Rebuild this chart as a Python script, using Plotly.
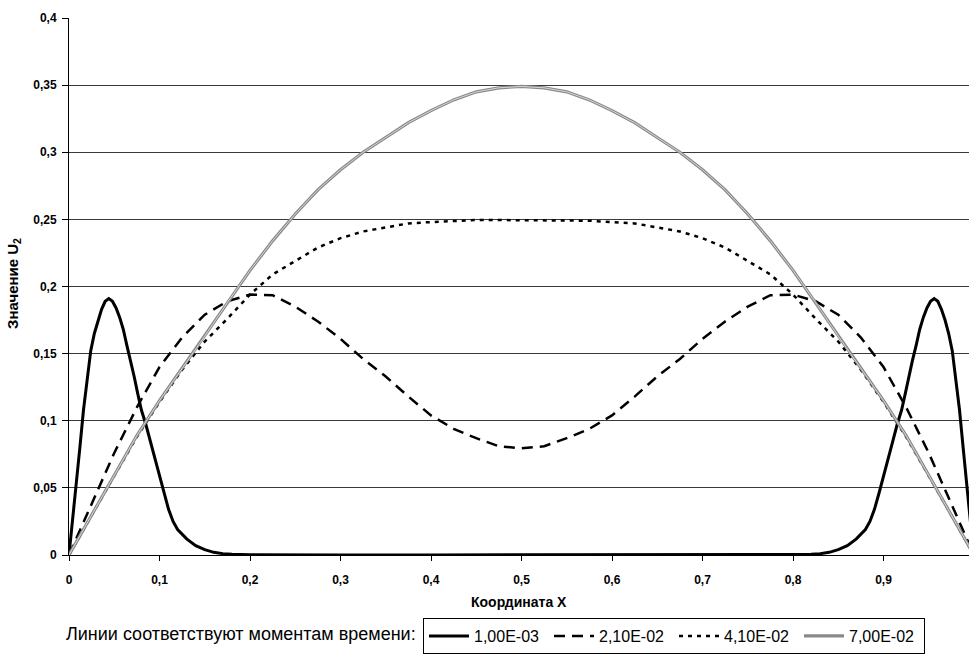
import plotly.graph_objects as go

# ---------------- data ----------------
x_t1 = [0, 0.004, 0.008, 0.012, 0.016, 0.02, 0.024, 0.028, 0.032, 0.036, 0.04, 0.044,
        0.048, 0.052, 0.056, 0.06, 0.064, 0.068, 0.072, 0.076, 0.08, 0.085, 0.09, 0.095,
        0.1, 0.105, 0.11, 0.115, 0.12, 0.13, 0.14, 0.15, 0.16, 0.17, 0.18, 0.2, 0.25,
        0.3, 0.4, 0.5, 0.6, 0.7,
        0.75, 0.8, 0.82, 0.83, 0.84, 0.85, 0.86, 0.87, 0.88, 0.885, 0.89, 0.895, 0.9,
        0.905, 0.91, 0.915, 0.92, 0.924, 0.928, 0.932, 0.936, 0.94, 0.944, 0.948, 0.952,
        0.956, 0.96, 0.964, 0.968, 0.972, 0.976, 0.98, 0.984, 0.988, 0.992, 0.996, 1.0]
y_t1 = [0, 0.025, 0.050, 0.080, 0.108, 0.132, 0.152, 0.165, 0.175, 0.183, 0.189, 0.191,
        0.189, 0.184, 0.177, 0.168, 0.156, 0.145, 0.133, 0.120, 0.108, 0.097, 0.084, 0.071,
        0.058, 0.046, 0.034, 0.025, 0.019, 0.012, 0.007, 0.004, 0.002, 0.001, 0.0005, 0.0002, 0,
        0, 0, 0, 0, 0,
        0, 0.0002, 0.0005, 0.001, 0.002, 0.004, 0.007, 0.012, 0.019, 0.025, 0.034, 0.046, 0.058,
        0.071, 0.084, 0.097, 0.108, 0.120, 0.133, 0.145, 0.156, 0.168, 0.177, 0.184, 0.189,
        0.191, 0.189, 0.183, 0.175, 0.165, 0.152, 0.132, 0.108, 0.080, 0.050, 0.025, 0]

x_grid = [0, 0.025, 0.05, 0.075, 0.1, 0.125, 0.15, 0.175, 0.2, 0.225, 0.25, 0.275, 0.3,
          0.325, 0.35, 0.375, 0.4, 0.425, 0.45, 0.475, 0.5, 0.525, 0.55, 0.575, 0.6, 0.625,
          0.65, 0.675, 0.7, 0.725, 0.75, 0.775, 0.8, 0.825, 0.85, 0.875, 0.9, 0.925, 0.95,
          0.975, 1.0]
y_t2 = [0, 0.038, 0.076, 0.110, 0.140, 0.162, 0.179, 0.189, 0.194, 0.1935, 0.185, 0.174,
        0.161, 0.146, 0.133, 0.118, 0.104, 0.094, 0.087, 0.081, 0.0795, 0.081, 0.087, 0.094,
        0.104, 0.118, 0.133, 0.146, 0.161, 0.174, 0.185, 0.1935, 0.194, 0.189, 0.179, 0.162,
        0.140, 0.110, 0.076, 0.038, 0]
y_t3 = [0, 0.030, 0.059, 0.088, 0.114, 0.138, 0.159, 0.176, 0.194, 0.209, 0.219, 0.229,
        0.236, 0.241, 0.244, 0.247, 0.248, 0.249, 0.2495, 0.2495, 0.2495, 0.2495, 0.2495,
        0.249, 0.248, 0.247, 0.244, 0.241, 0.236, 0.229, 0.219, 0.209, 0.194, 0.176, 0.159,
        0.138, 0.114, 0.088, 0.059, 0.030, 0]
y_t4 = [0, 0.030, 0.059, 0.089, 0.115, 0.139, 0.163, 0.188, 0.212, 0.234, 0.254, 0.272,
        0.287, 0.300, 0.311, 0.322, 0.331, 0.339, 0.345, 0.348, 0.349, 0.348, 0.345, 0.339,
        0.331, 0.322, 0.311, 0.300, 0.287, 0.272, 0.254, 0.234, 0.212, 0.188, 0.163, 0.139,
        0.115, 0.089, 0.059, 0.030, 0]

series_names = ["1,00E-03", "2,10E-02", "4,10E-02", "7,00E-02"]
y_tickvals = [0, 0.05, 0.1, 0.15, 0.2, 0.25, 0.3, 0.35, 0.4]
y_ticktext = ["0", "0,05", "0,1", "0,15", "0,2", "0,25", "0,3", "0,35", "0,4"]
x_tickvals = [0, 0.1, 0.2, 0.3, 0.4, 0.5, 0.6, 0.7, 0.8, 0.9]
x_ticktext = ["0", "0,1", "0,2", "0,3", "0,4", "0,5", "0,6", "0,7", "0,8", "0,9"]

# ---------------- figure ----------------
W, H = 969, 666
ML, MR, MT, MB = 69, 0, 18, 111
PW, PH = W - ML - MR, H - MT - MB

narrow = "Liberation Sans Narrow, Liberation Sans, Arial, sans-serif"
arial = "Liberation Sans, Arial, sans-serif"

fig = go.Figure()
fig.add_trace(go.Scatter(x=x_t1, y=y_t1, mode="lines", name=series_names[0],
                         line=dict(color="black", width=3)))
fig.add_trace(go.Scatter(x=x_grid, y=y_t2, mode="lines", name=series_names[1],
                         line=dict(color="black", width=2.5, dash="11px,7px")))
fig.add_trace(go.Scatter(x=x_grid, y=y_t3, mode="lines", name=series_names[2],
                         line=dict(color="black", width=2.5, dash="4px,5px")))
fig.add_trace(go.Scatter(x=x_grid, y=y_t4, mode="lines", name=series_names[3],
                         line=dict(color="#8a8a8a", width=3.2)))
fig.add_trace(go.Scatter(x=x_grid, y=y_t4, mode="lines", showlegend=False,
                         hoverinfo="skip", line=dict(color="#d6d6d6", width=1)))


def px_x(px):
    return (px - ML) / PW


def px_y(py):
    return (H - MB - py) / PH


tickfont = dict(family=narrow, size=12, color="black", weight="bold")

fig.update_layout(
    width=W, height=H,
    margin=dict(l=ML, r=MR, t=MT, b=MB, pad=0, autoexpand=False),
    paper_bgcolor="white", plot_bgcolor="white",
    xaxis=dict(range=[0, PW / 905.0], tickvals=x_tickvals, ticktext=x_ticktext,
               showgrid=False, zeroline=False, showline=True, linecolor="black",
               linewidth=1, ticks="outside", ticklen=5, tickcolor="black",
               ticklabelstandoff=9, tickfont=tickfont, automargin=False),
    yaxis=dict(range=[0, 0.4], tickvals=y_tickvals, ticktext=y_ticktext,
               showgrid=True, gridcolor="#3a3a3a", gridwidth=1, zeroline=False,
               showline=True, linecolor="black", linewidth=1, ticks="outside",
               ticklen=6, tickcolor="black", ticklabelstandoff=3,
               tickfont=tickfont, automargin=False),
    showlegend=True,
    legend=dict(orientation="h", x=px_x(423), y=px_y(618), xanchor="left", yanchor="top",
                bordercolor="black", borderwidth=1, bgcolor="white",
                font=dict(family=arial, size=16, color="black"),
                itemwidth=40, entrywidth=70, entrywidthmode="pixels",
                tracegroupgap=0),
    annotations=[
        dict(text="Координата X", x=px_x(519), y=px_y(602), xref="paper", yref="paper",
             showarrow=False, xanchor="center", yanchor="middle",
             font=dict(family=narrow, size=14, color="black", weight="bold")),
        dict(text="Значение U<sub>2</sub>", x=px_x(13), y=px_y(284), xref="paper",
             yref="paper", showarrow=False, textangle=-90, xanchor="center",
             yanchor="middle", font=dict(family=arial, size=15, color="black",
                                         weight="bold")),
        dict(text="Линии соответствуют моментам времени:", x=px_x(64), y=px_y(634),
             xref="paper", yref="paper", showarrow=False, xanchor="left",
             yanchor="middle", font=dict(family=arial, size=18, color="black")),
    ],
)

fig.write_html("out.html",
               config={"displayModeBar": False},
               post_script="document.body.style.margin='0';"
                           "document.body.style.overflow='hidden';")
